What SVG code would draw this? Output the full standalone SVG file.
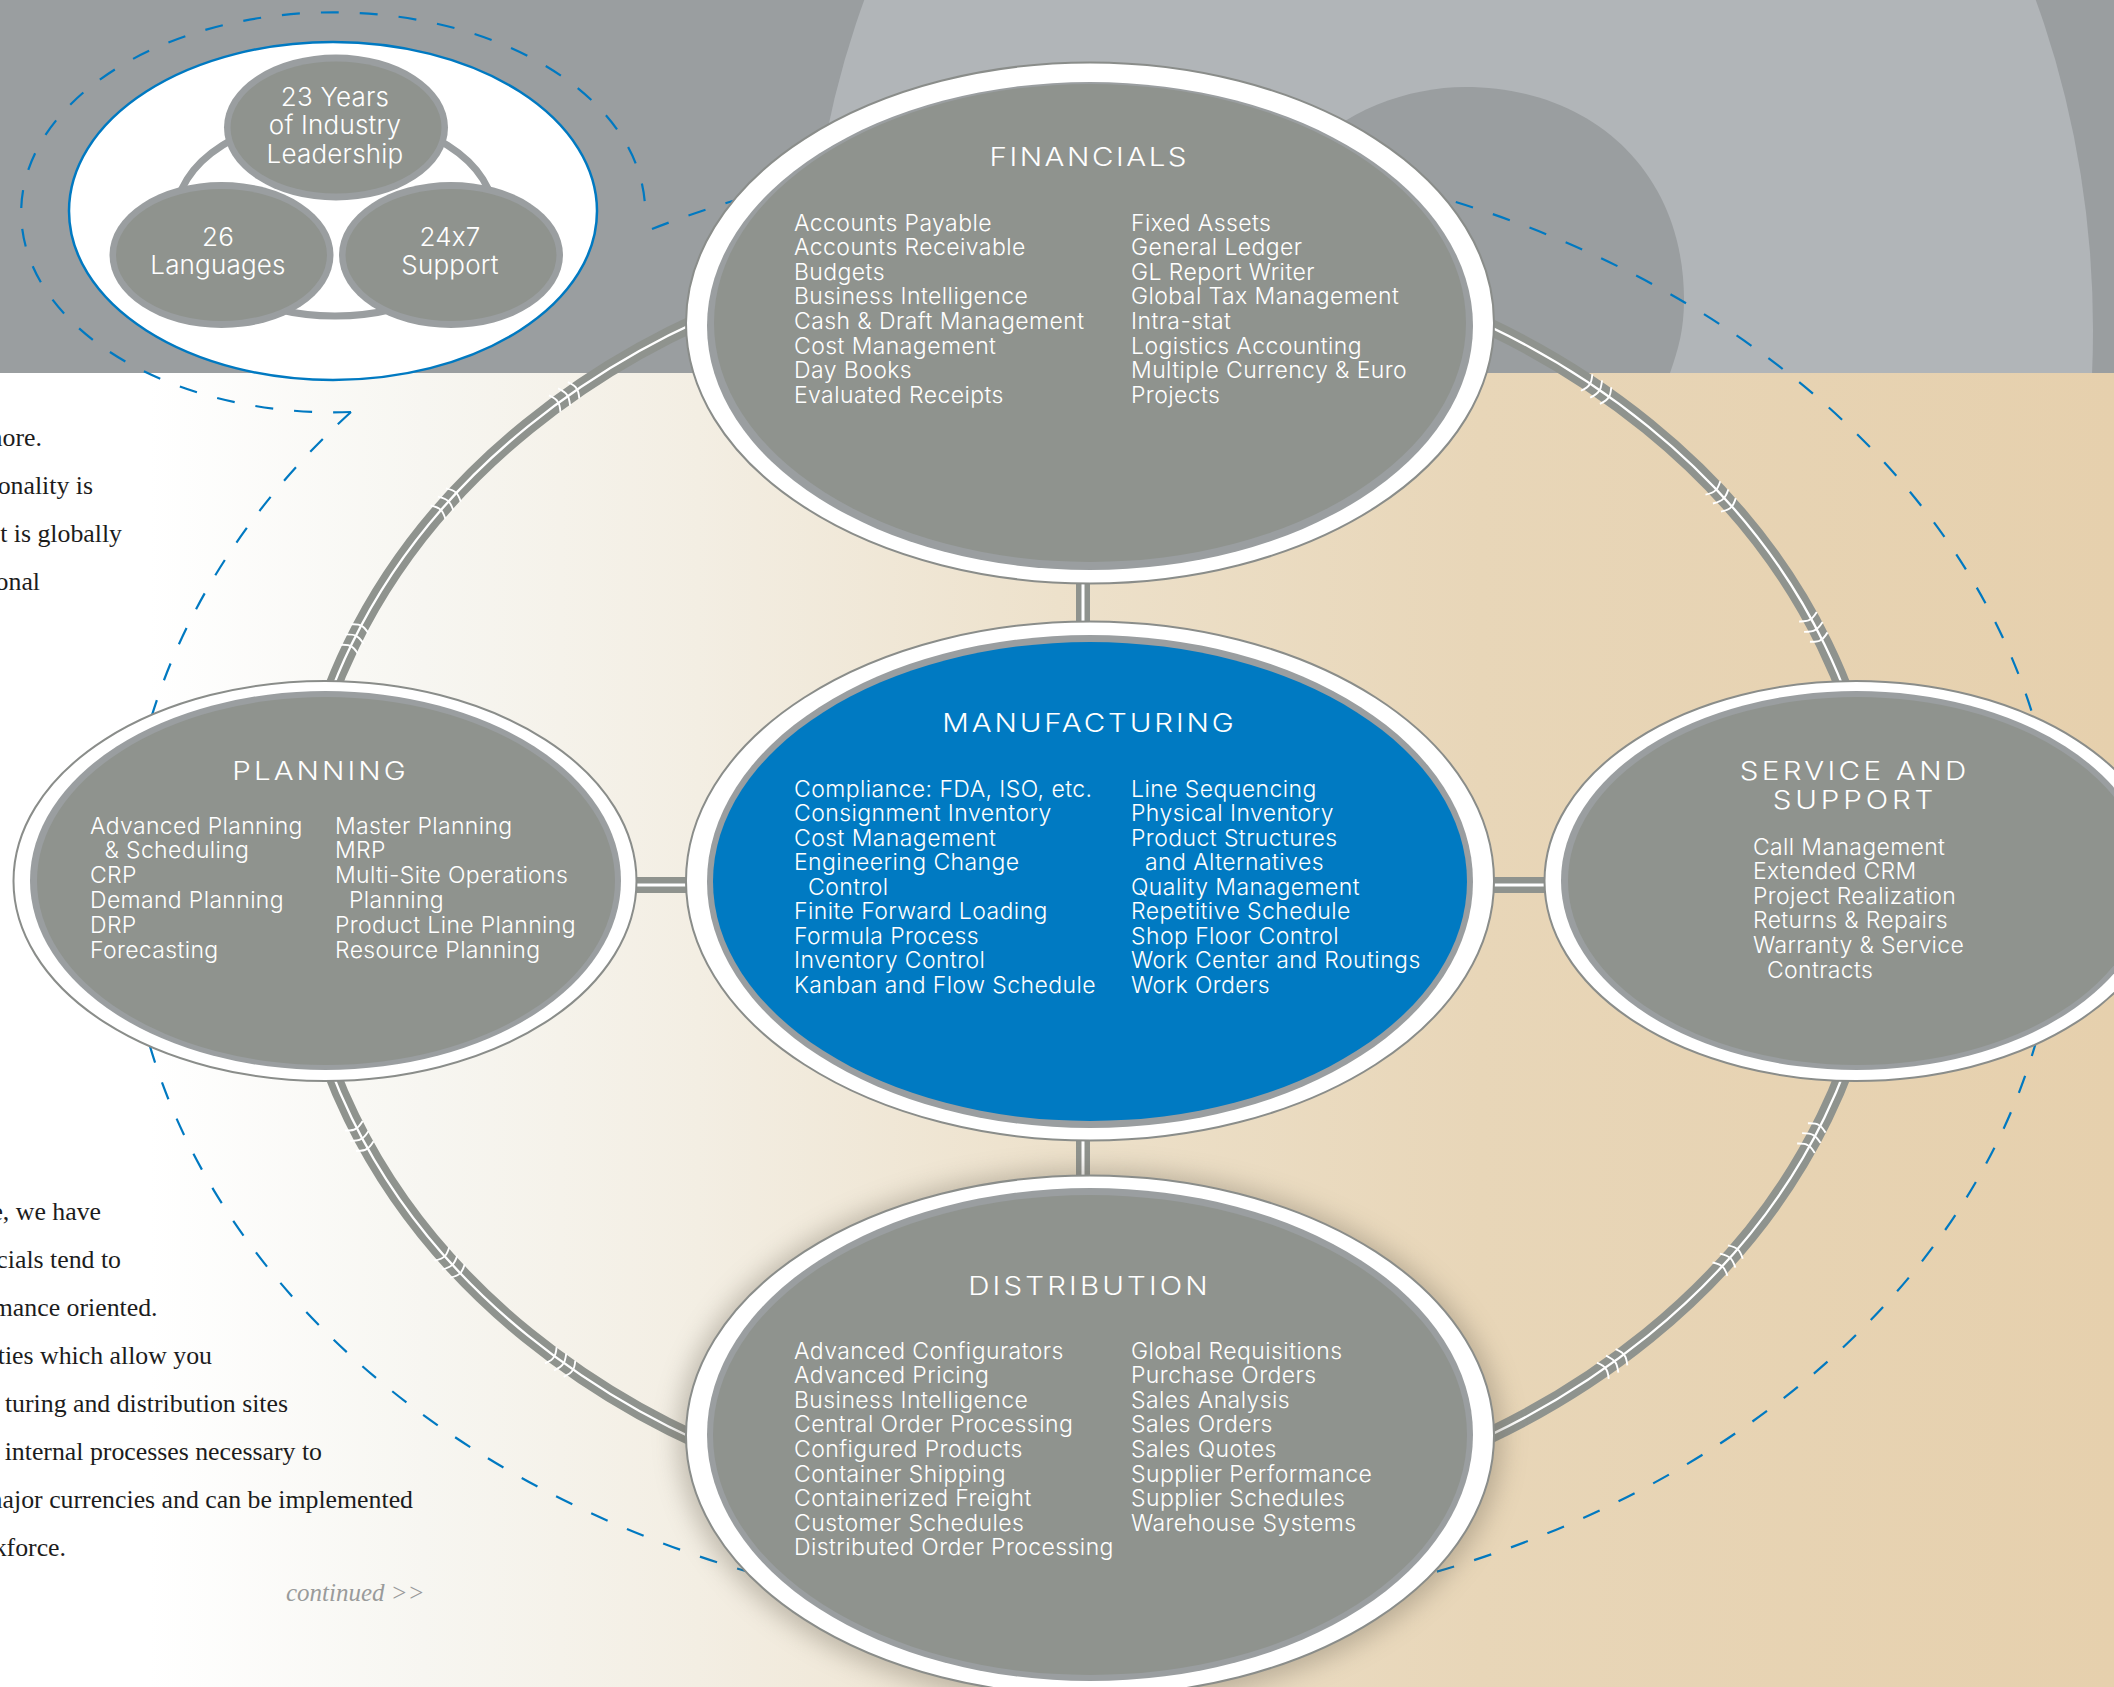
<svg xmlns="http://www.w3.org/2000/svg" width="2114" height="1687" viewBox="0 0 2114 1687">
<defs>
<linearGradient id="bg" x1="0" x2="1" y1="0" y2="0">
<stop offset="0.07" stop-color="#ffffff"/><stop offset="0.2" stop-color="#f7f6f1"/><stop offset="0.33" stop-color="#f3eee3"/><stop offset="0.5" stop-color="#ede1cb"/><stop offset="0.7" stop-color="#e8d6b8"/><stop offset="1" stop-color="#e6d0ad"/>
</linearGradient>
<clipPath id="band"><rect x="0" y="0" width="2114" height="373"/></clipPath>
<clipPath id="shadowClip"><rect x="645" y="1135" width="890" height="552"/></clipPath>
<filter id="blur" x="-10%" y="-10%" width="120%" height="120%"><feGaussianBlur stdDeviation="13"/></filter>
<g id="tick"><path d="M-15,-10 Q-11,-3 -11.500,0 Q-11,3 -15,10 M-3.500,-10.500 Q0.500,-3 0,0 Q0.500,3 -3.500,10.500 M8,-10 Q12,-3 11.500,0 Q12,3 8,10"/></g>
</defs>
<style>
text{font-family:"Inter","Liberation Sans",sans-serif;font-weight:300;fill:#fff}
.b{font-size:23px;letter-spacing:.42px;transform:translateY(.5px)}
.n{font-size:23px;letter-spacing:.35px;transform:translateY(.5px)}
.t{font-size:25px;text-anchor:middle}
.s{font-size:26px;letter-spacing:.2px;text-anchor:middle}
.p{font-family:"Liberation Serif",serif;font-weight:400;font-size:25.800px;fill:#1c1c1c;text-anchor:end}
.c{font-family:"Liberation Serif",serif;font-weight:400;font-style:italic;font-size:25px;fill:#999b9b}
.o{fill:#fff;stroke:#8a8d8a;stroke-width:2}
.l{fill:#9a9ea0}
.d{fill:#8f938e}
.rg{fill:none;stroke:#8f938e;stroke-width:16.500}
.rw{fill:none;stroke:#fff;stroke-width:2.300}
.k{fill:none;stroke:#fff;stroke-width:1.900}
.dash{fill:none;stroke:#0079c1;stroke-width:2.200;stroke-dasharray:18 21}
</style>
<g id="background">
<rect x="0" y="373" width="2114" height="1314" fill="url(#bg)"/>
<rect x="0" y="0" width="2114" height="373" fill="#9a9ea0"/>
<g clip-path="url(#band)">
<ellipse cx="1450" cy="330" rx="643" ry="800" fill="#b1b5b8"/>
<path d="M1300,160 C1340,110 1410,87 1465,87 C1590,87 1684,170 1684,300 C1684,330 1678,350 1670,373 L1300,373 Z" fill="#9a9ea0"/>
</g>
</g>
<g id="body-text">
<text class="p" x="42" y="446">more.</text>
<text class="p" x="93" y="494">onality is</text>
<text class="p" x="122" y="542">t is globally</text>
<text class="p" x="40" y="590">onal</text>
<text class="p" x="101" y="1220">e, we have</text>
<text class="p" x="121" y="1268">cials tend to</text>
<text class="p" x="157.500" y="1316">mance oriented.</text>
<text class="p" x="212" y="1364">ties which allow you</text>
<text class="p" x="288" y="1412">turing and distribution sites</text>
<text class="p" x="322" y="1460">internal processes necessary to</text>
<text class="p" x="413" y="1508">major currencies and can be implemented</text>
<text class="p" x="66" y="1556">kforce.</text>
<text class="c" x="286" y="1601">continued &gt;&gt;</text>
</g>
<g id="connectors">
<path class="dash" d="M652,229 A966,736 0 1 1 1092,1620"/>
<path class="dash" d="M351,412 A966,736 0 0 0 1092,1620"/>
<path class="dash" d="M351,412 A312,200 0 1 1 645,219"/>
<ellipse class="rg" cx="1088" cy="881" rx="792" ry="643"/>
<ellipse class="rw" cx="1088" cy="881" rx="792" ry="643"/>
<g class="k">
<use href="#tick" transform="translate(567,395) rotate(-35)"/>
<use href="#tick" transform="translate(448,501) rotate(-48)"/>
<use href="#tick" transform="translate(356,636) rotate(-63)"/>
<use href="#tick" transform="translate(1599,391) rotate(34.500)"/>
<use href="#tick" transform="translate(1723,499) rotate(47.600)"/>
<use href="#tick" transform="translate(1815,630) rotate(62)"/>
<use href="#tick" transform="translate(361,1139) rotate(61.700)"/>
<use href="#tick" transform="translate(452,1265) rotate(47.500)"/>
<use href="#tick" transform="translate(563,1364) rotate(35.600)"/>
<use href="#tick" transform="translate(1813,1135) rotate(-62)"/>
<use href="#tick" transform="translate(1730,1258) rotate(-48)"/>
<use href="#tick" transform="translate(1615,1362) rotate(-36)"/>
</g>
<g fill="#8f938e">
<rect x="1076" y="580" width="14" height="44"/>
<rect x="1076" y="1138" width="14" height="40"/>
<rect x="634" y="877" width="54" height="16"/>
<rect x="1492" y="877" width="55" height="16"/>
</g>
<g fill="#fff">
<rect x="1081.500" y="580" width="3" height="44"/>
<rect x="1081.500" y="1138" width="3" height="40"/>
<rect x="634" y="883.500" width="54" height="3"/>
<rect x="1492" y="883.500" width="55" height="3"/>
</g>
</g>
<g id="leadership">
<ellipse cx="333" cy="211" rx="264" ry="169" fill="#fff" stroke="#0079c1" stroke-width="2.500"/>
<ellipse cx="335" cy="216" rx="159" ry="100" fill="none" stroke="#9a9ea0" stroke-width="7"/>
<g id="years">
<ellipse class="l" cx="336" cy="127.500" rx="112" ry="73"/><ellipse class="d" cx="336" cy="127.500" rx="105.500" ry="66"/>
<text class="s" x="335" y="106" letter-spacing="2.500">23 Years</text>
<text class="s" x="335" y="134">of Industry</text>
<text class="s" x="335" y="163">Leadership</text>
</g>
<g id="languages">
<ellipse class="l" cx="221.500" cy="255" rx="112" ry="73"/><ellipse class="d" cx="221.500" cy="255" rx="105.500" ry="66"/>
<text class="s" x="218" y="246" letter-spacing="4">26</text>
<text class="s" x="218" y="274">Languages</text>
</g>
<g id="support">
<ellipse class="l" cx="451" cy="255" rx="112" ry="73"/><ellipse class="d" cx="451" cy="255" rx="105.500" ry="66"/>
<text class="s" x="450" y="246" letter-spacing="4">24x7</text>
<text class="s" x="450" y="274">Support</text>
</g>
</g>
<g id="financials">
<ellipse class="o" cx="1090" cy="323" rx="404" ry="260.500"/>
<ellipse class="l" cx="1090" cy="326" rx="383" ry="244"/>
<ellipse class="d" cx="1090" cy="323" rx="376" ry="239"/>
<text class="t" transform="translate(1088,166) scale(1.18,1)" textLength="167" lengthAdjust="spacing">FINANCIALS</text>
<text class="b" x="794" y="230">Accounts Payable</text>
<text class="b" x="794" y="254.600">Accounts Receivable</text>
<text class="b" x="794" y="279.200">Budgets</text>
<text class="b" x="794" y="303.800">Business Intelligence</text>
<text class="b" x="794" y="328.400">Cash &amp; Draft Management</text>
<text class="b" x="794" y="353">Cost Management</text>
<text class="b" x="794" y="377.600">Day Books</text>
<text class="b" x="794" y="402.200">Evaluated Receipts</text>
<text class="b" x="1131" y="230">Fixed Assets</text>
<text class="b" x="1131" y="254.600">General Ledger</text>
<text class="b" x="1131" y="279.200">GL Report Writer</text>
<text class="b" x="1131" y="303.800">Global Tax Management</text>
<text class="b" x="1131" y="328.400">Intra-stat</text>
<text class="b" x="1131" y="353">Logistics Accounting</text>
<text class="b" x="1131" y="377.600">Multiple Currency &amp; Euro</text>
<text class="b" x="1131" y="402.200">Projects</text>
</g>
<g id="manufacturing">
<ellipse class="o" cx="1090" cy="881" rx="404" ry="259.500"/>
<ellipse class="l" cx="1090" cy="881.500" rx="383" ry="246.500"/>
<ellipse cx="1090" cy="881.500" rx="377" ry="239.500" fill="#007ac2"/>
<text class="t" transform="translate(1088,732) scale(1.18,1)" textLength="247" lengthAdjust="spacing">MANUFACTURING</text>
<text class="b" x="794" y="796">Compliance: FDA, ISO, etc.</text>
<text class="b" x="794" y="820.500">Consignment Inventory</text>
<text class="b" x="794" y="845">Cost Management</text>
<text class="b" x="794" y="869.500">Engineering Change</text>
<text class="b" x="808" y="894">Control</text>
<text class="b" x="794" y="918.500">Finite Forward Loading</text>
<text class="b" x="794" y="943">Formula Process</text>
<text class="b" x="794" y="967.500">Inventory Control</text>
<text class="b" x="794" y="992">Kanban and Flow Schedule</text>
<text class="b" x="1131" y="796">Line Sequencing</text>
<text class="b" x="1131" y="820.500">Physical Inventory</text>
<text class="b" x="1131" y="845">Product Structures</text>
<text class="b" x="1145" y="869.500">and Alternatives</text>
<text class="b" x="1131" y="894">Quality Management</text>
<text class="b" x="1131" y="918.500">Repetitive Schedule</text>
<text class="b" x="1131" y="943">Shop Floor Control</text>
<text class="b" x="1131" y="967.500">Work Center and Routings</text>
<text class="b" x="1131" y="992">Work Orders</text>
</g>
<g id="distribution">
<g clip-path="url(#shadowClip)"><ellipse cx="1090" cy="1438" rx="412" ry="268" fill="#6b6355" opacity="0.38" filter="url(#blur)"/></g>
<ellipse class="o" cx="1090" cy="1435.500" rx="404" ry="260"/>
<ellipse class="l" cx="1090" cy="1434.500" rx="383" ry="246.500"/>
<ellipse class="d" cx="1090" cy="1435" rx="377" ry="240"/>
<text class="t" transform="translate(1088,1295) scale(1.18,1)" textLength="203" lengthAdjust="spacing">DISTRIBUTION</text>
<text class="b" x="794" y="1358">Advanced Configurators</text>
<text class="b" x="794" y="1382.600">Advanced Pricing</text>
<text class="b" x="794" y="1407.200">Business Intelligence</text>
<text class="b" x="794" y="1431.800">Central Order Processing</text>
<text class="b" x="794" y="1456.400">Configured Products</text>
<text class="b" x="794" y="1481">Container Shipping</text>
<text class="b" x="794" y="1505.600">Containerized Freight</text>
<text class="b" x="794" y="1530.200">Customer Schedules</text>
<text class="b" x="794" y="1554.800">Distributed Order Processing</text>
<text class="b" x="1131" y="1358">Global Requisitions</text>
<text class="b" x="1131" y="1382.600">Purchase Orders</text>
<text class="b" x="1131" y="1407.200">Sales Analysis</text>
<text class="b" x="1131" y="1431.800">Sales Orders</text>
<text class="b" x="1131" y="1456.400">Sales Quotes</text>
<text class="b" x="1131" y="1481">Supplier Performance</text>
<text class="b" x="1131" y="1505.600">Supplier Schedules</text>
<text class="b" x="1131" y="1530.200">Warehouse Systems</text>
</g>
<g id="planning">
<ellipse class="o" cx="325" cy="881" rx="311.500" ry="200"/>
<ellipse class="l" cx="325.500" cy="880.500" rx="295.500" ry="189.500"/>
<ellipse class="d" cx="326" cy="881" rx="289" ry="184"/>
<text class="t" transform="translate(319,780) scale(1.18,1)" textLength="147" lengthAdjust="spacing">PLANNING</text>
<text class="n" x="90" y="833">Advanced Planning</text>
<text class="n" x="104.500" y="857.800">&amp; Scheduling</text>
<text class="n" x="90" y="882.600">CRP</text>
<text class="n" x="90" y="907.400">Demand Planning</text>
<text class="n" x="90" y="932.200">DRP</text>
<text class="n" x="90" y="957">Forecasting</text>
<text class="n" x="335" y="833">Master Planning</text>
<text class="n" x="335" y="857.800">MRP</text>
<text class="n" x="335" y="882.600">Multi-Site Operations</text>
<text class="n" x="349" y="907.400">Planning</text>
<text class="n" x="335" y="932.200">Product Line Planning</text>
<text class="n" x="335" y="957">Resource Planning</text>
</g>
<g id="service">
<ellipse class="o" cx="1856" cy="881" rx="311.500" ry="200"/>
<ellipse class="l" cx="1856.500" cy="880.500" rx="295.500" ry="189.500"/>
<ellipse class="d" cx="1857" cy="881" rx="289" ry="184"/>
<text class="t" transform="translate(1853,780) scale(1.18,1)" textLength="192" lengthAdjust="spacing">SERVICE AND</text>
<text class="t" transform="translate(1853,809) scale(1.18,1)" textLength="136" lengthAdjust="spacing">SUPPORT</text>
<text class="n" x="1753" y="854">Call Management</text>
<text class="n" x="1753" y="878.600">Extended CRM</text>
<text class="n" x="1753" y="903.200">Project Realization</text>
<text class="n" x="1753" y="927.800">Returns &amp; Repairs</text>
<text class="n" x="1753" y="952.400">Warranty &amp; Service</text>
<text class="n" x="1767" y="977">Contracts</text>
</g>
</svg>
